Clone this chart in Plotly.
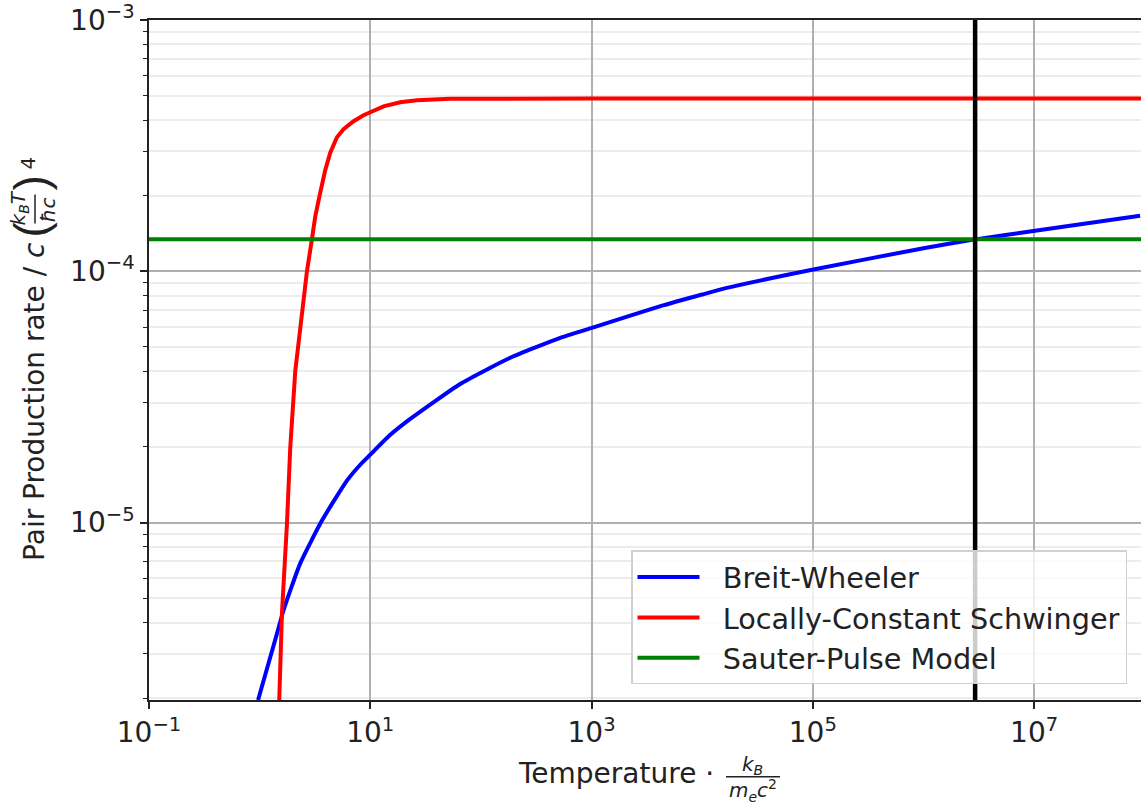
import math
import plotly.graph_objects as go

# Breit-Wheeler pair production rate
T_bw = [0.968, 1.435, 1.645, 2.328, 3.658, 6.153, 8.117, 10.0, 15.16, 22.98,
        65.0, 184, 520.7, 1007, 4198, 1.0e4, 16710, 1.012e5, 1.0e6, 2.93e6,
        1.02e7, 9.07e7]
R_bw = [1.966e-6, 3.615e-6, 4.475e-6, 6.877e-6, 1.018e-5, 1.468e-5, 1.698e-5,
        1.862e-5, 2.234e-5, 2.586e-5, 3.562e-5, 4.529e-5, 5.435e-5, 5.957e-5,
        7.262e-5, 8.081e-5, 8.586e-5, 1.016e-4, 1.235e-4, 1.34e-4, 1.45e-4,
        1.663e-4]

# Locally-constant Schwinger rate
T_lcs = [1.504, 1.591, 1.766, 1.891, 2.099, 2.677, 2.971, 3.183, 3.494, 3.918,
         4.348, 4.999, 5.733, 7.062, 8.694, 9.993, 13.18, 18.65, 26.41, 52.78,
         149.5, 1e3, 9.3e7]
R_lcs = [1.966e-6, 4.354e-6, 9.91e-6, 1.984e-5, 4.010e-5, 1.0e-4, 1.346e-4,
         1.653e-4, 2.016e-4, 2.528e-4, 2.966e-4, 3.418e-4, 3.677e-4, 3.955e-4,
         4.178e-4, 4.294e-4, 4.535e-4, 4.704e-4, 4.791e-4, 4.857e-4, 4.871e-4,
         4.87e-4, 4.87e-4]

# Sauter-pulse model (constant rate)
T_sp = [0.1, 9.3e7]
R_sp = [1.34e-4, 1.34e-4]

# Crossing temperature marker
T_cross = [2.93e6, 2.93e6]
R_cross = [1.9e-6, 1.01e-3]

# Axis limits and ticks
x_lim = [0.1, 9.25e7]
y_lim = [1.966e-6, 1.0005e-3]
x_tickvals = [1e-1, 1e1, 1e3, 1e5, 1e7]
x_ticktext = ["10<sup>\u22121</sup>", "10<sup>1</sup>", "10<sup>3</sup>",
              "10<sup>5</sup>", "10<sup>7</sup>"]
y_tickvals = [1e-5, 1e-4, 1e-3]
y_ticktext = ["10<sup>\u22125</sup>", "10<sup>\u22124</sup>", "10<sup>\u22123</sup>"]

W, H = 1141, 805
ML, MR, MT, MB = 149, 0, 18, 105
FONT = "DejaVu Sans"
FS = 28
SFS = 20
NB = "\u00a0\u00a0"


def px(X):
    return (X - ML) / (W - ML - MR)


def py(Y):
    return (H - MB - Y) / (H - MB - MT)


fig = go.Figure()
fig.add_trace(go.Scatter(x=T_bw, y=R_bw, mode="lines", name=NB + "Breit-Wheeler",
                         line=dict(color="#0000ff", width=4, shape="spline",
                                   smoothing=0.5)))
fig.add_trace(go.Scatter(x=T_lcs, y=R_lcs, mode="lines",
                         name=NB + "Locally-Constant Schwinger",
                         line=dict(color="#ff0000", width=4)))
fig.add_trace(go.Scatter(x=T_sp, y=R_sp, mode="lines",
                         name=NB + "Sauter-Pulse Model",
                         line=dict(color="#008000", width=4)))
fig.add_trace(go.Scatter(x=T_cross, y=R_cross, mode="lines", showlegend=False,
                         line=dict(color="#000000", width=4.5)))

fig.update_xaxes(
    type="log", range=[math.log10(x_lim[0]), math.log10(x_lim[1])],
    tickvals=x_tickvals, ticktext=x_ticktext, ticklabeloverflow="allow",
    ticks="outside", ticklen=7, tickwidth=1.5, tickcolor="#222",
    showline=True, linecolor="#222", linewidth=1.5, mirror=True,
    showgrid=True, gridcolor="#b0b0b0", gridwidth=1.5,
    zeroline=False, tickfont=dict(family=FONT, size=FS, color="#222"),
)
fig.update_yaxes(
    type="log", range=[math.log10(y_lim[0]), math.log10(y_lim[1])],
    tickvals=y_tickvals, ticktext=y_ticktext, ticklabeloverflow="allow",
    ticks="outside", ticklen=7, tickwidth=1.5, tickcolor="#222",
    showline=True, linecolor="#222", linewidth=1.5,
    showgrid=True, gridcolor="#b0b0b0", gridwidth=1.5,
    minor=dict(dtick="D1", ticks="outside", ticklen=4, tickwidth=1.2,
               tickcolor="#222", showgrid=True, gridcolor="#ececec",
               gridwidth=2),
    zeroline=False, tickfont=dict(family=FONT, size=FS, color="#222"),
)

ann = []
shapes = []
PAREN_FONT = "DejaVu Sans ExtraLight, Liberation Sans, DejaVu Sans"

# x-axis title: "Temperature · k_B / (m_e c^2)"
ann.append(dict(text="Temperature \u00b7", x=px(516), y=py(774),
                xanchor="left", yanchor="middle", font=dict(size=FS)))
ann.append(dict(text="<i>k<sub>B</sub></i>", x=px(752), y=py(765),
                xanchor="center", yanchor="middle", font=dict(size=SFS)))
ann.append(dict(text="<i>m<sub>e</sub>c</i><sup>2</sup>", x=px(753), y=py(791),
                xanchor="center", yanchor="middle", font=dict(size=SFS)))
shapes.append(dict(type="line", xref="paper", yref="paper",
                   x0=px(726), x1=px(780), y0=py(777), y1=py(777),
                   line=dict(color="#222", width=1.5)))

# y-axis title: "Pair Production rate / c (k_B T / ħc)^4"
ann.append(dict(text="Pair Production rate / <i>c</i>", x=px(35), y=py(563),
                xanchor="center", yanchor="bottom", textangle=-90,
                font=dict(size=FS)))
ann.append(dict(text="(", x=px(31), y=py(228), xanchor="center",
                yanchor="middle", textangle=-90,
                font=dict(size=46, family=PAREN_FONT)))
ann.append(dict(text=")", x=px(31), y=py(182), xanchor="center",
                yanchor="middle", textangle=-90,
                font=dict(size=46, family=PAREN_FONT)))
ann.append(dict(text="<i>k<sub>B</sub>T</i>", x=px(19), y=py(207),
                xanchor="center", yanchor="middle", textangle=-90,
                font=dict(size=SFS)))
ann.append(dict(text="<i>\u0127c</i>", x=px(48), y=py(209),
                xanchor="center", yanchor="middle", textangle=-90,
                font=dict(size=SFS)))
ann.append(dict(text="4", x=px(28), y=py(162), xanchor="center",
                yanchor="middle", textangle=-90, font=dict(size=SFS)))
shapes.append(dict(type="line", xref="paper", yref="paper",
                   x0=px(35), x1=px(35), y0=py(193), y1=py(222),
                   line=dict(color="#222", width=1.5)))

for a in ann:
    a.update(xref="paper", yref="paper", showarrow=False)
    a["font"].setdefault("family", FONT)
    a["font"].update(color="#222")

fig.update_layout(
    width=W, height=H, autosize=False,
    margin=dict(l=ML, r=MR, t=MT, b=MB, pad=0),
    paper_bgcolor="white", plot_bgcolor="white",
    font=dict(family=FONT, size=FS, color="#222"),
    annotations=ann, shapes=shapes,
    legend=dict(x=px(631), y=py(550), xanchor="left", yanchor="top",
                bgcolor="rgba(255,255,255,0.8)", bordercolor="#d0d0d0",
                borderwidth=1.5, itemwidth=62,
                font=dict(family=FONT, size=28.7, color="#222")),
)

fig.write_html("out.html")
